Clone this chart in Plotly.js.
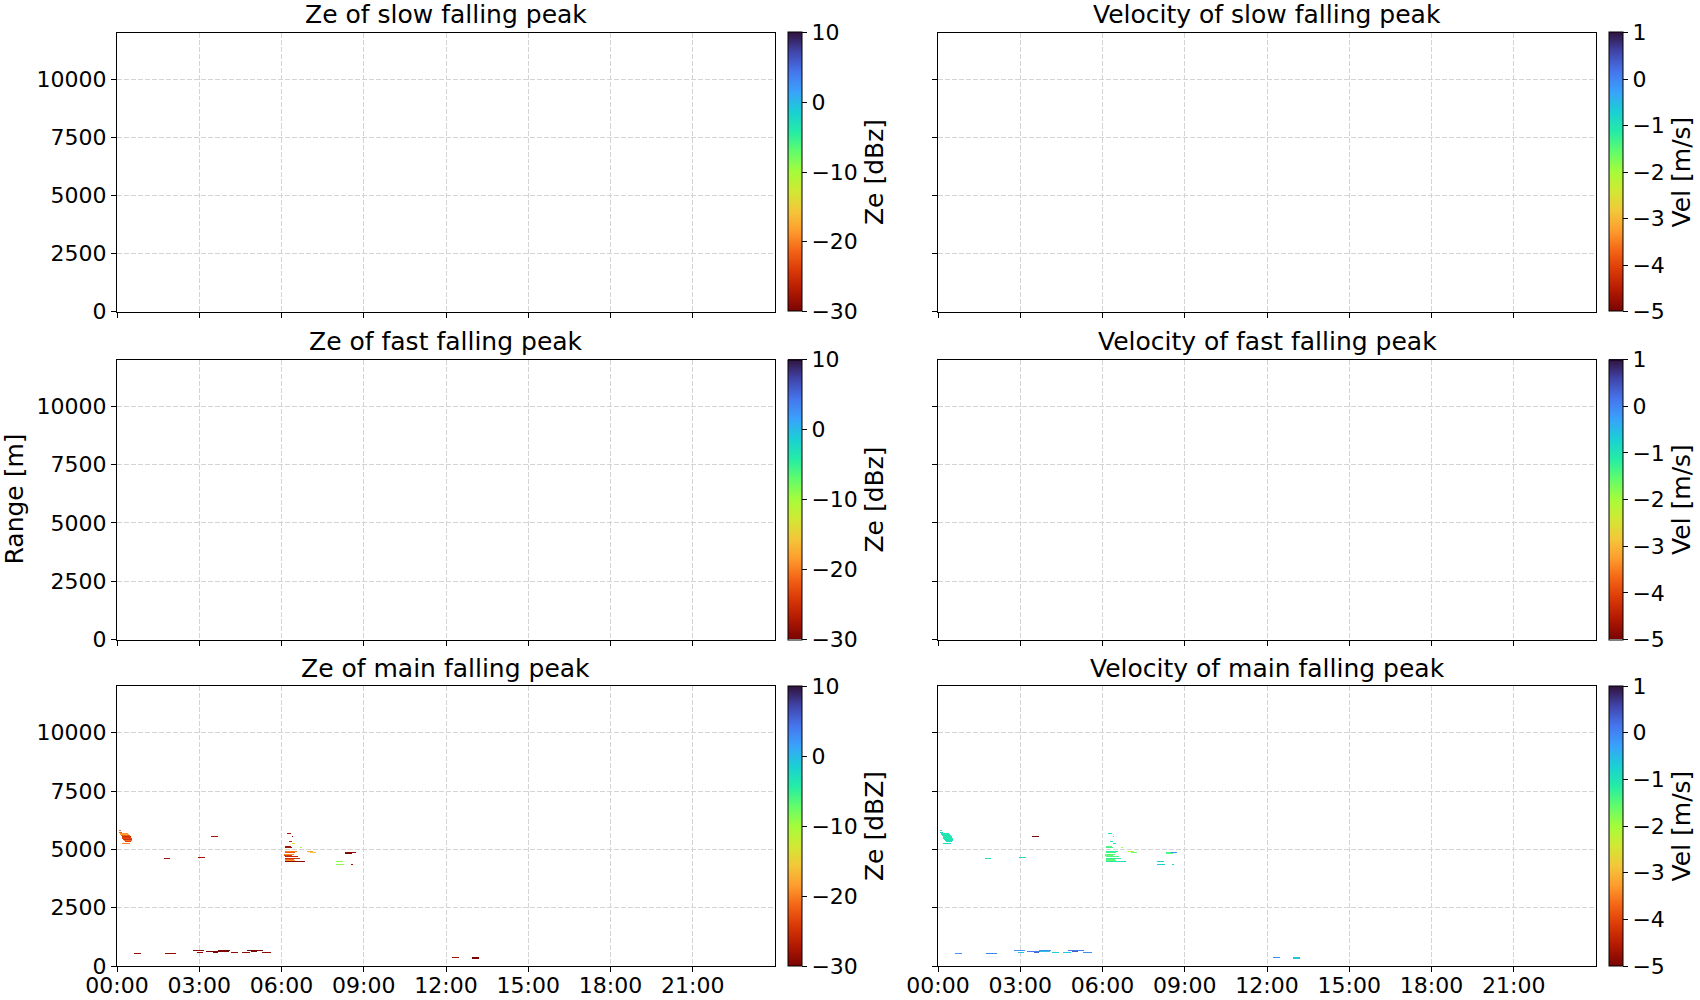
<!DOCTYPE html>
<html>
<head>
<meta charset="utf-8">
<script src="https://cdn.plot.ly/plotly-3.0.1.min.js"></script>
<style>html,body{margin:0;padding:0;background:#fff;}#chart{width:1700px;height:1000px;}</style>
</head>
<body>
<div id="chart"></div>
<script>
// ---------- tick labels ----------
const hourTicks = [0, 3, 6, 9, 12, 15, 18, 21];
const hourLabels = ['00:00', '03:00', '06:00', '09:00', '12:00', '15:00', '18:00', '21:00'];
const rangeTicks = [0, 2500, 5000, 7500, 10000];
const zeTicks = [-30, -20, -10, 0, 10];
const velTicks = [-5, -4, -3, -2, -1, 0, 1];

// ---------- data: echo segments (start hour, end hour, range m, Ze dBZ, velocity m/s) ----------
// slow falling peak: no detections
const slowStart = [];
const slowEnd = [];
const slowRange = [];
const slowZe = [];
const slowVel = [];
// fast falling peak: no detections
const fastStart = [];
const fastEnd = [];
const fastRange = [];
const fastZe = [];
const fastVel = [];
// main falling peak
const mainStart = [0.08,0.08,0.10,0.10,0.14,0.18,0.20,0.22,0.25,0.28,0.30,0.22,
  1.72,2.98,3.46,
  6.23,6.39,6.29,6.37,6.15,6.15,6.67,6.95,7.05,6.15,6.15,6.12,6.12,6.15,6.15,6.15,6.15,6.15,6.70,
  8.34,8.50,8.34,8.03,8.03,8.54,
  0.64,1.77,2.79,2.92,3.26,3.50,3.72,3.75,4.18,4.59,4.74,4.90,5.32,12.25,12.95,12.95];
const mainEnd = [0.13,0.20,0.40,0.42,0.45,0.48,0.50,0.52,0.52,0.52,0.48,0.45,
  1.92,3.20,3.70,
  6.32,6.43,6.37,6.50,6.32,6.39,6.73,7.14,7.24,6.54,6.50,6.45,6.40,6.60,6.66,6.45,6.48,6.70,6.86,
  8.50,8.72,8.54,8.21,8.24,8.58,
  0.86,2.16,3.16,3.13,3.74,3.70,4.13,4.10,4.40,4.84,5.32,5.10,5.60,12.45,13.18,13.18];
const mainRange = [5800,5720,5640,5600,5560,5520,5480,5440,5400,5360,5320,5240,
  4620,4660,5520,
  5640,5530,5330,5270,5130,5040,5040,4880,4840,4880,4840,4760,4720,4680,4600,4560,4520,4440,4440,
  4840,4840,4800,4440,4330,4330,
  540,540,640,560,600,560,640,600,590,590,640,600,590,390,370,330];
const mainZe = [-21,-22,-19,-18,-22,-25,-24,-23,-25,-21,-24,-20,
  -28,-28,-28,
  -28,-28,-26,-14,-28,-28,-10,-18,-16,-20,-22,-19,-24,-26,-25,-21,-19,-29,-29,
  -29,-29,-30,-9,-9,-29,
  -29,-29,-29,-29,-30,-30,-30,-30,-29,-29,-30,-30,-29,-28,-30,-30];
const mainVel = [-0.9,-0.8,-1.0,-1.1,-1.0,-1.1,-1.0,-1.1,-1.0,-0.9,-1.0,-0.9,
  -1.0,-0.9,-5.0,
  -0.9,-0.9,-1.0,-1.0,-1.5,-1.3,-2.0,-2.2,-1.6,-1.2,-1.4,-1.5,-1.6,-1.4,-1.2,-1.5,-1.6,-1.1,-0.8,
  -1.3,-0.2,-1.5,-0.7,-0.7,-0.8,
  -0.2,0.0,-0.1,-0.6,0.1,0.3,-0.1,-0.6,-0.7,-0.7,0.1,0.4,-0.1,-0.1,-0.6,-0.6];

// ---------- gridding ----------
const dtH = 2 / 60;   // time bin (h)
const dR = 40;        // range bin (m)
const nT = Math.round(24 / dtH);
const nR = Math.round(12000 / dR);
const xCenters = Array.from({length: nT}, (_, c) => (c + 0.5) * dtH);
const yCenters = Array.from({length: nR}, (_, r) => (r + 0.5) * dR);

function buildGrid(starts, ends, ranges, vals) {
  const z = Array.from({length: nR}, () => new Array(nT).fill(null));
  for (let i = 0; i < starts.length; i++) {
    const r = Math.floor(ranges[i] / dR);
    const c0 = Math.floor(starts[i] / dtH);
    const c1 = Math.max(c0, Math.ceil(ends[i] / dtH) - 1);
    for (let c = c0; c <= c1; c++) z[r][c] = vals[i];
  }
  return z;
}

// ---------- turbo (reversed) colorscale ----------
const turbo = ['#30123b','#4145ab','#4675ed','#39a2fc','#1bcfd4','#24eca6','#61fc6c','#a4fc3b',
               '#d1e834','#f3c63a','#fe9b2d','#f36315','#d93806','#b11901','#7a0403'];
const turboR = turbo.map((_, i) => [i / (turbo.length - 1), turbo[turbo.length - 1 - i]]);

// ---------- geometry (px) ----------
const W = 1700, H = 1000;
const colX = [[117, 775], [938, 1596]];
const cbX = [788, 1609];
const rowY = [[32.5, 311.5], [359.5, 639.5], [686, 966]];
const FONT = 'DejaVu Sans';
const TICK = 22, LABEL = 25;

const panels = [
  {title: 'Ze of slow falling peak', s: slowStart, e: slowEnd, r: slowRange, v: slowZe, kind: 'ze', cbt: 'Ze [dBz]', row: 0, col: 0},
  {title: 'Velocity of slow falling peak', s: slowStart, e: slowEnd, r: slowRange, v: slowVel, kind: 'vel', cbt: 'Vel [m/s]', row: 0, col: 1},
  {title: 'Ze of fast falling peak', s: fastStart, e: fastEnd, r: fastRange, v: fastZe, kind: 'ze', cbt: 'Ze [dBz]', row: 1, col: 0},
  {title: 'Velocity of fast falling peak', s: fastStart, e: fastEnd, r: fastRange, v: fastVel, kind: 'vel', cbt: 'Vel [m/s]', row: 1, col: 1},
  {title: 'Ze of main falling peak', s: mainStart, e: mainEnd, r: mainRange, v: mainZe, kind: 'ze', cbt: 'Ze [dBZ]', row: 2, col: 0},
  {title: 'Velocity of main falling peak', s: mainStart, e: mainEnd, r: mainRange, v: mainVel, kind: 'vel', cbt: 'Vel [m/s]', row: 2, col: 1}
];

const traces = [];
const layout = {
  width: W, height: H,
  margin: {l: 0, r: 0, t: 0, b: 0},
  paper_bgcolor: '#ffffff', plot_bgcolor: '#ffffff',
  font: {family: FONT, size: TICK, color: '#000000'},
  showlegend: false,
  annotations: []
};

const gridDash = '5px,2px';

panels.forEach((p, i) => {
  const n = i + 1;
  const sfx = n === 1 ? '' : String(n);
  const xd = [colX[p.col][0] / W, colX[p.col][1] / W];
  const yd = [1 - rowY[p.row][1] / H, 1 - rowY[p.row][0] / H];
  const isZe = p.kind === 'ze';
  const cmin = isZe ? -30 : -5, cmax = isZe ? 10 : 1;
  const colorbar = {
    x: cbX[p.col] / W, xanchor: 'left', xpad: 0,
    y: (yd[0] + yd[1]) / 2, yanchor: 'middle', ypad: 0,
    len: yd[1] - yd[0], lenmode: 'fraction',
    thickness: 14, thicknessmode: 'pixels',
    outlinewidth: 1, outlinecolor: '#000000',
    tickmode: 'array', tickvals: isZe ? zeTicks : velTicks,
    ticks: 'outside', ticklen: 5, tickwidth: 1, tickcolor: '#000000',
    tickfont: {family: FONT, size: TICK, color: '#000000'},
    title: {text: p.cbt, side: 'right', font: {family: FONT, size: LABEL, color: '#000000'}}
  };
  const hasData = p.s.length > 0;
  traces.push({
    type: 'heatmap',
    x: xCenters, y: yCenters,
    z: buildGrid(p.s, p.e, p.r, p.v),
    zmin: cmin, zmax: cmax, zauto: false,
    colorscale: turboR,
    showscale: hasData,
    colorbar: colorbar,
    zsmooth: false,
    hoverinfo: 'skip',
    xaxis: 'x' + sfx, yaxis: 'y' + sfx
  });
  if (!hasData) {
    // colour-scale key only (panel has no detections): an empty marker trace carrying the colorbar
    traces.push({
      type: 'scatter', mode: 'markers',
      x: [null], y: [null],
      marker: {color: [null], cmin: cmin, cmax: cmax, cauto: false, colorscale: turboR,
               showscale: true, colorbar: colorbar, size: 1, opacity: 0},
      hoverinfo: 'skip',
      xaxis: 'x' + sfx, yaxis: 'y' + sfx
    });
  }
  layout['xaxis' + sfx] = {
    domain: xd, anchor: 'y' + sfx,
    range: [0, 24], tickmode: 'array', tickvals: hourTicks, ticktext: hourLabels,
    showticklabels: p.row === 2, ticklabelstandoff: -5,
    ticks: 'outside', ticklen: 5, tickwidth: 1, tickcolor: '#000000',
    showline: true, mirror: true, linecolor: '#000000', linewidth: 1,
    showgrid: true, gridcolor: '#d4d4d4', gridwidth: 1, griddash: gridDash,
    zeroline: false, fixedrange: true,
    tickfont: {family: FONT, size: TICK, color: '#000000'}
  };
  layout['yaxis' + sfx] = {
    domain: yd, anchor: 'x' + sfx,
    range: [0, 12000], tickmode: 'array', tickvals: rangeTicks, tickformat: 'd',
    showticklabels: p.col === 0,
    ticks: 'outside', ticklen: 5, tickwidth: 1, tickcolor: '#000000',
    showline: true, mirror: true, linecolor: '#000000', linewidth: 1,
    showgrid: true, gridcolor: '#d4d4d4', gridwidth: 1, griddash: gridDash,
    zeroline: false, fixedrange: true,
    tickfont: {family: FONT, size: TICK, color: '#000000'}
  };
  layout.annotations.push({
    text: p.title, xref: 'paper', yref: 'paper',
    x: (xd[0] + xd[1]) / 2, y: yd[1], xanchor: 'center', yanchor: 'bottom', yshift: 1,
    showarrow: false, font: {family: FONT, size: LABEL, color: '#000000'}
  });
});

layout.annotations.push({
  text: 'Range [m]', xref: 'paper', yref: 'paper',
  x: 14 / W, y: 1 - 499.5 / H, xanchor: 'center', yanchor: 'middle',
  textangle: -90, showarrow: false,
  font: {family: FONT, size: LABEL, color: '#000000'}
});

Plotly.newPlot('chart', traces, layout, {displayModeBar: false, staticPlot: true});
</script>
</body>
</html>
